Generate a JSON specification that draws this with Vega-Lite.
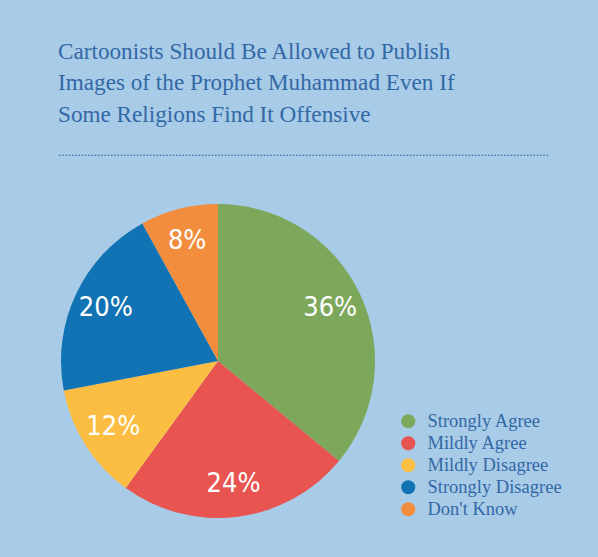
{
  "$schema": "https://vega.github.io/schema/vega-lite/v6.json",
  "width": 598,
  "height": 557,
  "autosize": {"type": "fit", "contains": "padding"},
  "padding": {"left": 58, "top": 39, "right": 0, "bottom": 0},
  "background": "#A8CBE7",
  "title": {
    "text": ["Cartoonists Should Be Allowed to Publish", "Images of the Prophet Muhammad Even If", "Some Religions Find It Offensive"],
    "subtitle": ".......................................................................................................................................................",
    "anchor": "start",
    "font": "Liberation Serif",
    "fontSize": 23.2,
    "fontWeight": "normal",
    "lineHeight": 31.5,
    "color": "#3368A6",
    "subtitleFont": "Liberation Serif",
    "subtitleFontSize": 13,
    "subtitleColor": "#3368A6",
    "subtitlePadding": 19,
    "offset": 20
  },
  "data": {
    "values": [
      {"answer": "Strongly Agree", "share": 36, "label": "36%", "rank": 1},
      {"answer": "Mildly Agree", "share": 24, "label": "24%", "rank": 2},
      {"answer": "Mildly Disagree", "share": 12, "label": "12%", "rank": 3},
      {"answer": "Strongly Disagree", "share": 20, "label": "20%", "rank": 4},
      {"answer": "Don't Know", "share": 8, "label": "8%", "rank": 5}
    ]
  },
  "encoding": {
    "theta": {"field": "share", "type": "quantitative", "stack": true},
    "order": {"field": "rank", "type": "quantitative", "sort": "ascending"},
    "color": {
      "field": "answer",
      "type": "nominal",
      "scale": {
        "domain": ["Strongly Agree", "Mildly Agree", "Mildly Disagree", "Strongly Disagree", "Don't Know"],
        "range": ["#7DA85C", "#E85450", "#FBBE42", "#1173B3", "#F38D3E"]
      },
      "legend": {
        "title": null,
        "orient": "none",
        "legendX": 341,
        "legendY": 232,
        "symbolType": "circle",
        "symbolSize": 200,
        "symbolStrokeWidth": 0,
        "labelFont": "Liberation Serif",
        "labelFontSize": 18.5,
        "labelColor": "#3368A6",
        "labelOffset": 10,
        "rowPadding": 3,
        "padding": 0
      }
    }
  },
  "layer": [
    {
      "mark": {"type": "arc", "outerRadius": 157, "x": 160, "y": 181}
    },
    {
      "mark": {"type": "text", "radius": 124, "x": 160, "y": 181, "font": "DejaVu Sans Condensed", "fontSize": 27, "fill": "white", "align": "center", "baseline": "middle"},
      "encoding": {
        "text": {"field": "label", "type": "nominal"},
        "color": {"value": "white"}
      }
    }
  ],
  "config": {"view": {"stroke": null}}
}
